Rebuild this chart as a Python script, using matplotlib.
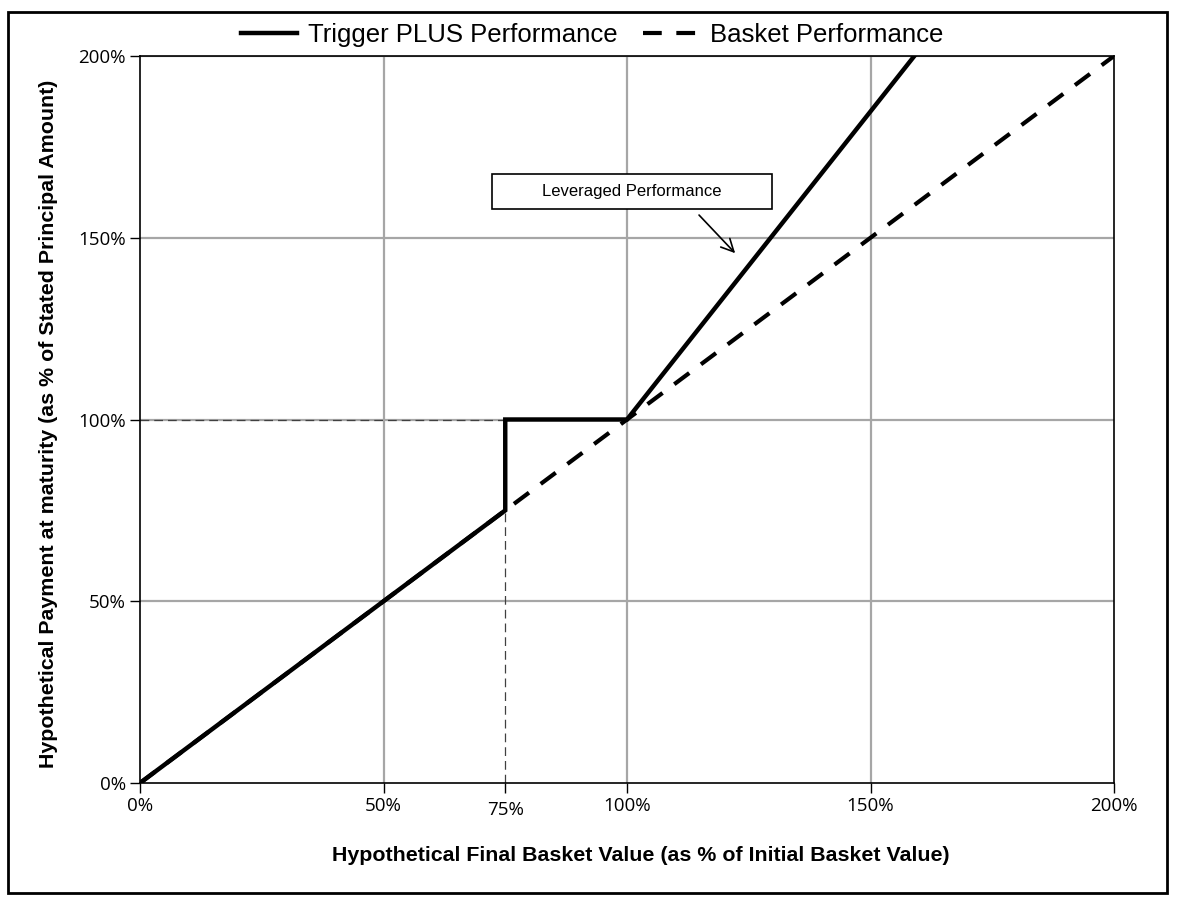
import matplotlib
matplotlib.use("Agg")
import matplotlib.pyplot as plt
from matplotlib.patches import Rectangle

# Data (percent)
trigger_x = [0, 75, 75, 100, 159]
trigger_y = [0, 75, 100, 100, 200]
basket_x = [0, 200]
basket_y = [0, 200]
xticks = [0, 50, 75, 100, 150, 200]
yticks = [0, 50, 100, 150, 200]
trigger_level = 75
principal_level = 100

fig = plt.figure(figsize=(11.87, 9.01), dpi=100)
ax = fig.add_axes([140/1187, 1-783/901, (1114-140)/1187, (783-56)/901])

# grid
for v in [50, 100, 150]:
    ax.axvline(v, color="#a6a6a6", lw=1.6, zorder=1)
for v in [50, 100, 150, 200]:
    ax.axhline(v, color="#a6a6a6", lw=1.6, zorder=1)

# reference dashed lines
ax.plot([0, trigger_level], [principal_level, principal_level], color="#404040",
        lw=0.9, ls=(0, (7, 4)), zorder=2)
ax.plot([trigger_level, trigger_level], [0, trigger_level], color="#404040",
        lw=0.9, ls=(0, (7, 4)), zorder=2)

l2, = ax.plot(basket_x, basket_y, color="black", lw=3, ls=(0, (4.5, 3.5)),
              zorder=3, label="Basket Performance")
l1, = ax.plot(trigger_x, trigger_y, color="black", lw=3.2, zorder=4,
              solid_joinstyle="miter", label="Trigger PLUS Performance")

ax.set_xlim(0, 200)
ax.set_ylim(0, 200)
ax.set_xticks(xticks)
ax.set_xticklabels([f"{t}%" for t in xticks], fontsize=13.5, family="Open Sans")
ax.set_yticks(yticks)
ax.set_yticklabels([f"{t}%" for t in yticks], fontsize=13.5, family="Open Sans")
ax.tick_params(direction="out", length=7, width=1, colors="black", pad=3)
for lab, t in zip(ax.get_xticklabels(), xticks):
    if t == 75:
        lab.set_y(-0.005)
for s in ax.spines.values():
    s.set_color("black")
    s.set_linewidth(1.2)

ax.set_xlabel("Hypothetical Final Basket Value (as % of Initial Basket Value)",
              fontsize=15.4, fontweight="bold", family="Liberation Sans", labelpad=20)
ax.set_ylabel("Hypothetical Payment at maturity (as % of Stated Principal Amount)",
              fontsize=15.4, fontweight="bold", family="Liberation Sans", labelpad=15)
ax.xaxis.label.set_x(0.514)
ax.yaxis.label.set_y(0.494)

# annotation box
ax.add_patch(Rectangle((72.3, 157.9), 57.5, 9.6, fc="white", ec="black", lw=1.2, zorder=5))
ax.text(101, 162.7, "Leveraged Performance", ha="center", va="center",
        fontsize=12, family="Liberation Sans", zorder=6)
ax.annotate("", xy=(122.6, 145.2), xytext=(114.4, 156.8),
            arrowprops=dict(arrowstyle="->,head_length=0.9,head_width=0.45",
                            color="black", lw=1.2))

leg = fig.legend(handles=[l1, l2], loc="center", bbox_to_anchor=(592/1187, 1-35/901),
                 ncol=2, frameon=False, handlelength=2.2,
                 columnspacing=1.0, handletextpad=0.4,
                 prop={"family": "Liberation Sans", "size": 18.5})

# outer frame
fig.patches.append(Rectangle((8/1187, 1-893/901), (1167-8)/1187, (893-12)/901,
                             transform=fig.transFigure, fill=False, ec="black", lw=2))

fig.savefig("out.png", dpi=100)
